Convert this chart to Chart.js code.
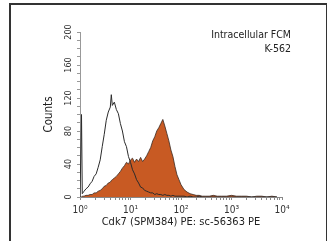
<!DOCTYPE html>
<html>
<head>
<meta charset="utf-8">
<script src="https://cdn.jsdelivr.net/npm/chart.js@4/dist/chart.umd.min.js"></script>
<style>
  html, body { margin: 0; padding: 0; background: #fff; overflow: hidden; }
  #wrap { position: relative; width: 327px; height: 241px; }
  #frame { position: absolute; left: 9px; top: 3px; width: 315px; height: 250px; border: 2px solid #333; }
  canvas { position: absolute; left: 0; top: 0; }
</style>
</head>
<body>
<div id="wrap">
  <div id="frame"></div>
  <canvas id="histChart" width="327" height="241"></canvas>
</div>
<script>
const FONT = "'Liberation Sans Narrow', 'DejaVu Sans Condensed', 'Liberation Sans', sans-serif";

// log10 of fluorescence (channel position)
const xLog = [0, 0.03, 0.045, 0.08, 0.12, 0.16, 0.20, 0.24, 0.28, 0.32, 0.36, 0.40, 0.44, 0.48, 0.52, 0.56, 0.60, 0.62,
  0.64, 0.68, 0.72, 0.76, 0.80, 0.84, 0.88, 0.92, 0.96, 1.00, 1.04, 1.08, 1.12, 1.16, 1.20, 1.24, 1.28, 1.32, 1.36,
  1.40, 1.44, 1.48, 1.52, 1.56, 1.60, 1.64, 1.68, 1.72, 1.76, 1.80, 1.84, 1.88, 1.92, 1.96, 2.00,
  2.06, 2.12, 2.18, 2.24, 2.30, 2.36, 2.42, 2.48, 2.56, 2.64, 2.72, 2.80, 2.90, 3.00, 3.10, 3.20, 3.30, 3.40,
  3.50, 3.60, 3.70, 3.80, 3.90];

// isotype control (open histogram)
const controlCounts = [0, 100, 4, 7, 10, 12, 16, 19, 25, 28, 36, 45, 61, 76, 93, 103, 109, 124,
  111, 115, 106, 101, 89, 80, 67, 61, 49, 42, 33, 28, 21, 17, 12, 11, 8, 7, 6,
  5, 5, 3, 4, 3, 3, 2, 3, 2, 2, 1, 2, 1, 1, 1, 1,
  1, 0, 1, 0, 0, 1, 0, 0, 0, 0, 0, 0, 0, 0, 0, 0, 0, 0,
  0, 0, 0, 0, 0];

// Cdk7 stained (filled histogram)
const cdk7Counts = [0, 0, 1, 1, 2, 2, 3, 3, 5, 5, 7, 8, 10, 13, 14, 17, 18, 20,
  21, 23, 25, 28, 31, 35, 38, 42, 40, 45, 47, 42, 46, 43, 48, 43, 46, 50, 55,
  60, 68, 73, 80, 84, 89, 94, 86, 77, 68, 57, 49, 37, 27, 21, 15,
  9, 6, 4, 3, 2, 2, 1, 1, 1, 2, 1, 1, 1, 2, 1, 1, 1, 0,
  1, 1, 0, 1, 0];

const xDecades = [0, 1, 2, 3, 4];
const xTickLabels = ["10\u2070", "10\u00B9", "10\u00B2", "10\u00B3", "10\u2074"];
const yTickLabels = [0, 40, 80, 120, 160, 200];
const noteLines = ["Intracellular FCM", "K-562"];

const toPoints = counts => xLog.map((x, i) => ({ x: x, y: counts[i] }));

// minor log ticks 2..9 in each decade
function logTicks() {
  let t = [];
  xDecades.forEach(d => {
    t.push({ value: d });
    if (d < 4) {
      for (let k = 2; k <= 9; k++) t.push({ value: d + Math.log10(k) });
    }
  });
  return t;
}

const extrasPlugin = {
  id: "extras",
  afterDraw(chart) {
    const ctx = chart.ctx;
    const y = chart.scales.y;
    const area = chart.chartArea;
    ctx.save();
    // rotated y tick labels
    ctx.fillStyle = "#333";
    ctx.font = "9px " + FONT;
    ctx.textAlign = "center";
    ctx.textBaseline = "middle";
    yTickLabels.forEach(v => {
      ctx.save();
      ctx.translate(area.left - 11, y.getPixelForValue(v));
      ctx.rotate(-Math.PI / 2);
      ctx.fillText(String(v), 0, 0);
      ctx.restore();
    });
    // note in the top right corner
    ctx.font = "10.5px " + FONT;
    ctx.fillStyle = "#222";
    ctx.textAlign = "right";
    noteLines.forEach((line, i) => {
      ctx.fillText(line, area.right + 9, area.top + 3 + i * 14);
    });
    ctx.restore();
  }
};

new Chart(document.getElementById("histChart"), {
  type: "line",
  data: {
    datasets: [
      {
        label: "Control",
        data: toPoints(controlCounts),
        borderColor: "#2b2b2b",
        borderWidth: 1,
        pointRadius: 0,
        fill: false,
        tension: 0,
        order: 0
      },
      {
        label: "Cdk7 (SPM384) PE",
        data: toPoints(cdk7Counts),
        borderColor: "#3a2a22",
        borderWidth: 0.8,
        backgroundColor: "#c85a23",
        pointRadius: 0,
        fill: "origin",
        tension: 0,
        order: 1
      }
    ]
  },
  options: {
    responsive: false,
    animation: false,
    layout: { padding: { left: 0, right: 45, top: 32, bottom: 0 } },
    plugins: {
      legend: { display: false },
      tooltip: { enabled: false }
    },
    scales: {
      x: {
        type: "linear",
        min: 0,
        max: 4,
        afterBuildTicks: scale => { scale.ticks = logTicks(); },
        afterFit: scale => { scale.height = 44; },
        ticks: {
          autoSkip: false,
          maxRotation: 0,
          padding: 4,
          color: "#333",
          font: { family: FONT, size: 10 },
          callback: v => {
            const i = xDecades.indexOf(v);
            return i >= 0 ? xTickLabels[i] : "";
          }
        },
        grid: { drawOnChartArea: false, tickLength: 3, color: "#888" },
        border: { color: "#888", width: 1 },
        title: {
          display: true,
          text: "Cdk7 (SPM384) PE: sc-56363 PE",
          color: "#222",
          font: { family: FONT, size: 11 },
          padding: { top: 0, bottom: 12 }
        }
      },
      y: {
        min: 0,
        max: 200,
        afterFit: scale => { scale.width = 80; },
        ticks: { stepSize: 10, display: false },
        grid: { drawOnChartArea: false, tickLength: 3, color: "#999" },
        border: { color: "#999", width: 1 },
        title: {
          display: true,
          text: "Counts",
          color: "#222",
          font: { family: FONT, size: 11.5 },
          padding: { top: 42, bottom: 0 }
        }
      }
    }
  },
  plugins: [extrasPlugin]
});
</script>
</body>
</html>
